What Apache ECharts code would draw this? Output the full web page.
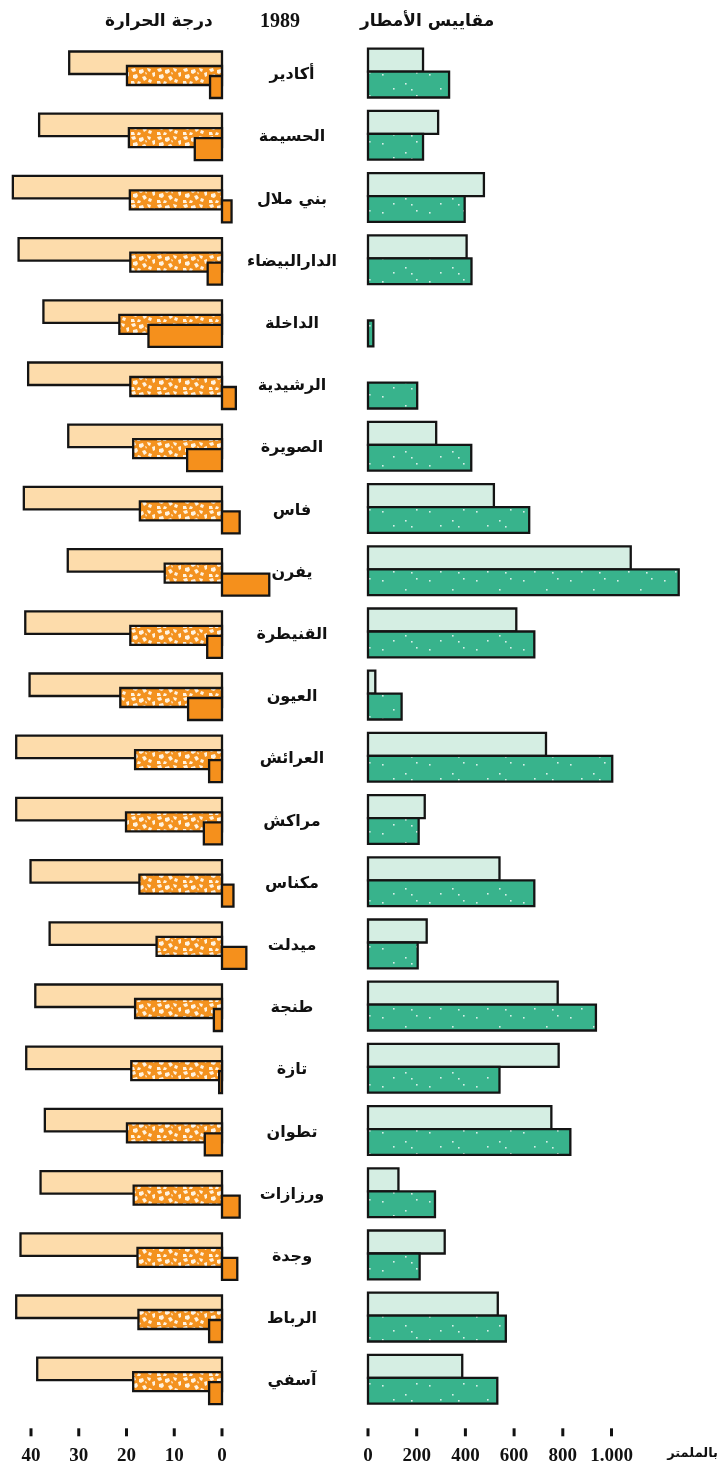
<!DOCTYPE html>
<html>
<head>
<meta charset="utf-8">
<script src="https://cdn.jsdelivr.net/npm/echarts@6/dist/echarts.min.js"></script>
<style>
html,body{margin:0;padding:0;background:#fff;}
#chart{width:724px;height:1476px;}
</style>
</head>
<body>
<div id="chart"></div>
<script>
// ---- data ----
const cities = ['أكادير','الحسيمة','بني ملال','الدارالبيضاء','الداخلة','الرشيدية','الصويرة','فاس','يفرن','القنيطرة','العيون','العرائش','مراكش','مكناس','ميدلت','طنجة','تازة','تطوان','ورزازات','وجدة','الرباط','آسفي'];
const tempMax  = [32.0, 38.3, 43.8, 42.6, 37.4, 40.6, 32.2, 41.5, 32.3, 41.2, 40.3, 43.1, 43.1, 40.1, 36.1, 39.1, 41.0, 37.1, 38.0, 42.2, 43.1, 38.7];
const tempMean = [19.9, 19.5, 19.3, 19.2, 21.5, 19.2, 18.6, 17.2, 12.0, 19.2, 21.3, 18.2, 20.1, 17.3, 13.7, 18.2, 19.0, 19.9, 18.5, 17.7, 17.5, 18.6];
const tempMin  = [2.5, 5.7, -2.0, 3.0, 15.4, -2.9, 7.3, -3.7, -9.9, 3.1, 7.1, 2.7, 3.8, -2.4, -5.1, 1.7, 0.6, 3.6, -3.7, -3.2, 2.7, 2.7];
const rainNormal = [226, 288, 476, 405, null, null, 280, 517, 1079, 609, 30, 731, 233, 540, 241, 779, 783, 753, 125, 315, 533, 387];
const rain1989   = [333, 226, 397, 425, 22, 202, 424, 662, 1276, 683, 138, 1003, 208, 683, 204, 936, 540, 831, 275, 212, 566, 531];
const tempTicks = [0, 10, 20, 30, 40];
const rainTicks = [0, 200, 400, 600, 800, 1000];

// ---- textures (fixed hand-placed speckles) ----
function makePattern(w, h, base, draw) {
  const c = document.createElement('canvas');
  c.width = w; c.height = h;
  const ctx = c.getContext('2d');
  ctx.fillStyle = base; ctx.fillRect(0, 0, w, h);
  draw(ctx);
  return { image: c, repeat: 'repeat' };
}
const meanFill = makePattern(26, 17, '#f3921f', ctx => {
  ctx.fillStyle = 'rgba(255,247,232,0.96)';
  const blobs = [
    [[1,1],[5,0],[6,3],[3,4],[2,3]],
    [[9,2],[13,1],[14,4],[11,6],[9,5]],
    [[17,0],[21,1],[20,4],[18,3]],
    [[22,5],[25,4],[25,8],[23,9]],
    [[3,7],[7,6],[8,9],[6,11],[3,10]],
    [[12,9],[15,8],[17,11],[14,13]],
    [[19,11],[22,12],[21,15],[18,14]],
    [[1,13],[4,13],[5,16],[1,16]],
    [[8,13],[11,14],[10,16],[7,16]],
    [[15,4],[17,5],[16,7]]
  ];
  blobs.forEach(b => { ctx.beginPath(); ctx.moveTo(b[0][0], b[0][1]); b.slice(1).forEach(p => ctx.lineTo(p[0], p[1])); ctx.closePath(); ctx.fill(); });
});
const greenFill = makePattern(47, 23, '#38b38c', ctx => {
  ctx.fillStyle = 'rgba(255,255,255,0.8)';
  [[6,5],[29,14],[40,3],[17,19],[35,20]].forEach(p => ctx.fillRect(p[0], p[1], 1.6, 1.6));
});

const STROKE = '#141414';
function barRender(off, fill) {
  return function (params, api) {
    const val = api.value(0), cat = api.value(1);
    if (val == null || isNaN(val)) return null;
    const p0 = api.coord([0, cat]);
    const p1 = api.coord([val, cat]);
    const band = api.size([0, 1])[1];
    return {
      type: 'rect',
      shape: { x: Math.min(p0[0], p1[0]), y: p0[1] + off[0] * band, width: Math.abs(p1[0] - p0[0]), height: (off[1] - off[0]) * band },
      style: { fill: fill, stroke: STROKE, lineWidth: 2.3 }
    };
  };
}
// small tick marks below the last row, placed through the value axis scale
function tickRender(params, api) {
  const p = api.coord([api.value(0), api.value(1)]);
  const band = api.size([0, 1])[1];
  return { type: 'rect', shape: { x: p[0] - 1.5, y: p[1] + band / 2 + 16, width: 3, height: 8 }, style: { fill: '#111' } };
}
function toData(arr) {
  const out = [];
  arr.forEach((v, i) => { if (v != null) out.push([v, i]); });
  return out;
}
const lastRow = cities.length - 1;

const AR = "'DejaVu Sans', sans-serif";
const SERIF = "'Liberation Serif', 'DejaVu Serif', serif";

const gridTop = 43.9, gridHeight = 1368.4;
const labelStyle = { margin: 34, color: '#111', fontFamily: SERIF, fontWeight: 'bold', fontSize: 19 };
const option = {
  animation: false,
  backgroundColor: '#ffffff',
  grid: [
    { left: 31, width: 191, top: gridTop, height: gridHeight },
    { left: 368, width: 243.5, top: gridTop, height: gridHeight }
  ],
  xAxis: [
    { type: 'value', gridIndex: 0, min: 0, max: 40, interval: 10, inverse: true,
      splitLine: { show: false }, axisLine: { show: false, onZero: false }, axisTick: { show: false },
      axisLabel: labelStyle },
    { type: 'value', gridIndex: 1, min: 0, max: 1000, interval: 200,
      splitLine: { show: false }, axisLine: { show: false, onZero: false }, axisTick: { show: false },
      axisLabel: Object.assign({ formatter: v => v >= 1000 ? (Math.floor(v / 1000) + '.' + String(v % 1000).padStart(3, '0')) : String(v) }, labelStyle) }
  ],
  yAxis: [
    { type: 'category', gridIndex: 0, data: cities, inverse: true, show: false },
    { type: 'category', gridIndex: 1, data: cities, inverse: true, position: 'left',
      axisLine: { show: false, onZero: false }, axisTick: { show: false }, splitLine: { show: false },
      axisLabel: { align: 'center', margin: 76, color: '#111', fontFamily: AR, fontWeight: 'bold', fontSize: 16 } }
  ],
  series: [
    { type: 'custom', name: 'max', xAxisIndex: 0, yAxisIndex: 0, z: 2, clip: false, encode: { x: 0, y: 1 },
      renderItem: barRender([-0.378, -0.016], '#fddcab'), data: toData(tempMax) },
    { type: 'custom', name: 'mean', xAxisIndex: 0, yAxisIndex: 0, z: 3, clip: false, encode: { x: 0, y: 1 },
      renderItem: barRender([-0.145, 0.161], meanFill), data: toData(tempMean) },
    { type: 'custom', name: 'min', xAxisIndex: 0, yAxisIndex: 0, z: 4, clip: false, encode: { x: 0, y: 1 },
      renderItem: barRender([0.016, 0.370], '#f5901c'), data: toData(tempMin) },
    { type: 'custom', name: 'normal', xAxisIndex: 1, yAxisIndex: 1, z: 2, clip: false, encode: { x: 0, y: 1 },
      renderItem: barRender([-0.423, -0.053], '#d5eee3'), data: toData(rainNormal) },
    { type: 'custom', name: '1989', xAxisIndex: 1, yAxisIndex: 1, z: 3, clip: false, encode: { x: 0, y: 1 },
      renderItem: barRender([-0.053, 0.362], greenFill), data: toData(rain1989) },
    { type: 'custom', name: 'tempTicks', xAxisIndex: 0, yAxisIndex: 0, z: 5, clip: false, silent: true, encode: { x: 0, y: 1 },
      renderItem: tickRender, data: tempTicks.map(v => [v, lastRow]) },
    { type: 'custom', name: 'rainTicks', xAxisIndex: 1, yAxisIndex: 1, z: 5, clip: false, silent: true, encode: { x: 0, y: 1 },
      renderItem: tickRender, data: rainTicks.map(v => [v, lastRow]) }
  ],
  graphic: [
    { type: 'text', left: 105, top: 13, style: { text: 'درجة الحرارة', font: "bold 17px " + AR, fill: '#111' } },
    { type: 'text', left: 260, top: 12, style: { text: '1989', font: "bold 20px " + SERIF, fill: '#111' } },
    { type: 'text', left: 360, top: 13, style: { text: 'مقاييس الأمطار', font: "bold 17px " + AR, fill: '#111' } },
    { type: 'text', right: 6, top: 1447, style: { text: 'بالملمتر', font: "bold 13px " + AR, fill: '#111' } }
  ]
};
const chart = echarts.init(document.getElementById('chart'), null, { renderer: 'canvas' });
chart.setOption(option);
</script>
</body>
</html>
